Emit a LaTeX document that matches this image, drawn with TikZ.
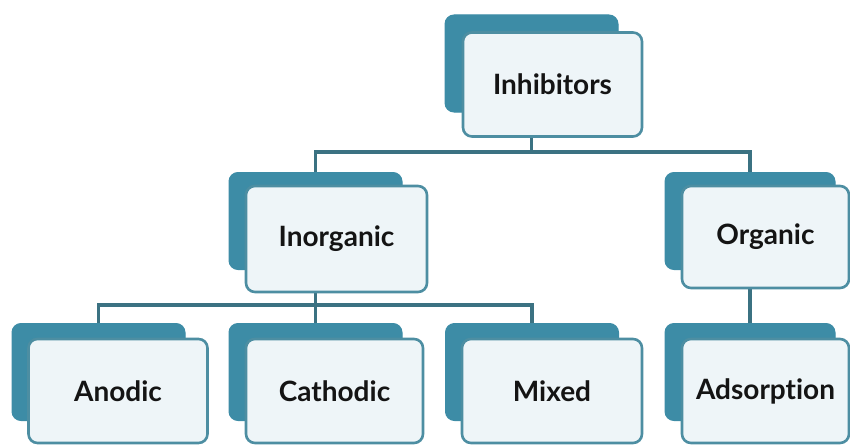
\documentclass[tikz,border=0pt]{standalone}
\usepackage{fontspec}
\setmainfont[Ligatures=NoCommon]{Lato}
\definecolor{backteal}{HTML}{3D8CA6}
\definecolor{frontfill}{HTML}{EEF5F8}
\definecolor{frontline}{HTML}{4D8EA2}
\definecolor{connline}{HTML}{3B7282}
\tikzset{
  backbox/.style={rectangle, rounded corners=9pt, fill=backteal, draw=backteal, line width=1pt,
    minimum width=173pt, minimum height=97pt, inner sep=0pt},
  frontbox/.style={rectangle, rounded corners=9pt, fill=frontfill, draw=frontline, line width=2.6pt,
    minimum width=179pt, minimum height=104pt, inner sep=0pt,
    font=\fontsize{28}{32}\selectfont\bfseries, text=black!92},
  conn/.style={draw=connline, line width=3.2pt}
}
\begin{document}
\begin{tikzpicture}[x=1pt,y=-1pt]
\useasboundingbox (0,0) rectangle (850,444);
% back boxes
\node[backbox] (inhB) at (531.5,63.5) {};
\node[backbox] (inoB) at (315.5,221) {};
\node[backbox, minimum width=170pt] (orgB) at (750,221) {};
\node[backbox] (anoB) at (98.5,372) {};
\node[backbox] (catB) at (315.5,372) {};
\node[backbox] (mixB) at (532,372) {};
\node[backbox, minimum width=170pt] (adsB) at (750,372) {};
% junction points
\coordinate (j1) at (531.5,152);
\coordinate (j2) at (315.5,305);
% connectors
\draw[conn] (inhB.south) -- (j1);
\draw[conn] (inoB.north) |- (j1) -| (orgB.north);
\draw[conn] (inoB.south) -- (j2);
\draw[conn] (anoB.north) |- (j2) -| (mixB.north);
\draw[conn] (j2) -- (catB.north);
\draw[conn] (orgB.south) -- (adsB.north);
% front boxes with labels
\node[frontbox] (inhF) at (552.5,84.5) {Inhibitors};
\node[frontbox, minimum width=181pt, minimum height=106pt] (inoF) at (336.5,239) {Inorganic};
\node[frontbox, minimum width=167pt, minimum height=102pt] (orgF) at (765.5,237) {Organic};
\node[frontbox] (anoF) at (118,391) {Anodic};
\node[frontbox, minimum width=177pt] (catF) at (334.5,391) {Cathodic};
\node[frontbox, minimum width=180pt] (mixF) at (552,391) {Mixed};
\node[frontbox, minimum width=167pt] (adsF) at (765.5,391) {Adsorption};
\end{tikzpicture}
\end{document}
